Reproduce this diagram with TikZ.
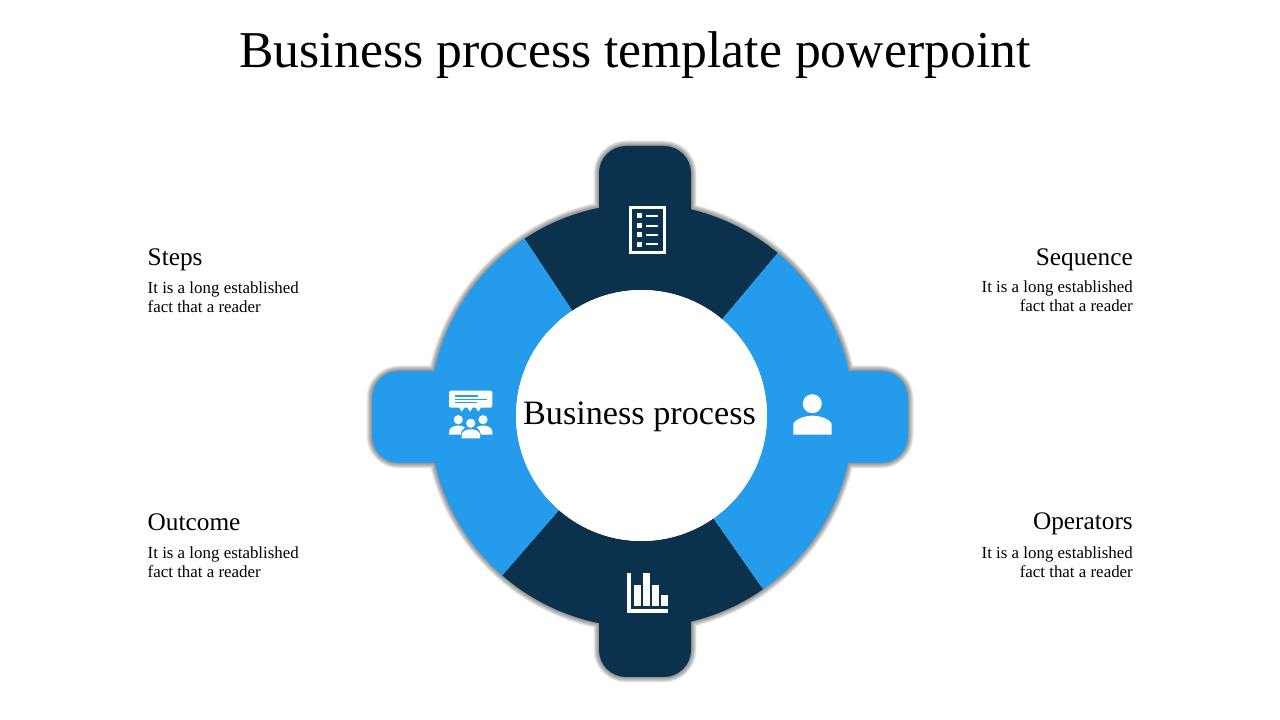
\documentclass[tikz,border=0pt]{standalone}
\usepackage{fontspec}
\setmainfont{Liberation Serif}
\usetikzlibrary{positioning,calc}
\definecolor{ringdark}{HTML}{0A324D}
\definecolor{ringlight}{HTML}{259BEB}
\tikzset{
  headtext/.style={inner sep=0,font=\fontsize{25.3}{25}\selectfont},
  bodytext/.style={inner sep=0,font=\fontsize{16.9}{19}\selectfont},
  icon/.style={fill=white,draw=none},
  iconline/.style={draw=ringlight,line width=1.2pt}
}
% outline of ring with its four tabs (px coordinates, y from the bottom)
\newcommand \myringshape
{
(C) circle [radius=212] [rounded corners=27]
(599,574) rectangle (691,470)
(599,43) rectangle (691,150)
(372,349) rectangle (480,257)
(908,349) rectangle (800,257)
}
\newcommand \myringpart[3]
{
\fill[#3] ($(C)+(#1:212)$) arc[start angle=#1,end angle=#2,radius=212]
  -- ($(C)+(#2:125.5)$) arc[start angle=#2,end angle=#1,radius=125.5] -- cycle;
}
\begin{document}
\begin{tikzpicture}[x=1pt,y=1pt]
\useasboundingbox (0,0) rectangle (1280,720);
\coordinate (C) at (641.5,304.5);
% soft shadow
\foreach \w in {11,9.5,8,6.5,5,3.5,2}
  \draw[black,opacity=0.07,line width=\w pt] \myringshape;
% ring
\myringpart{50}{123.5}{ringdark}
\myringpart{123.5}{229}{ringlight}
\myringpart{229}{305}{ringdark}
\myringpart{305}{410}{ringlight}
\fill[ringdark,rounded corners=27] (599,574) rectangle (691,470);
\fill[ringdark,rounded corners=27] (599,43) rectangle (691,150);
\fill[ringlight,rounded corners=27] (372,349) rectangle (480,257);
\fill[ringlight,rounded corners=27] (908,349) rectangle (800,257);
\node[circle,fill=white,inner sep=0,minimum size=251pt] (hub) at (C) {};
\node[anchor=base,inner sep=0,font=\fontsize{34.2}{34}\selectfont] (hubtext) at (639.5,295.5) {Business process};
% title
\node[anchor=base,inner sep=0,font=\fontsize{51.7}{52}\selectfont] (title) at (635,652.5) {Business process template powerpoint};
% left texts
\node[headtext,anchor=base west] (steps) at (147.5,454) {Steps};
\node[bodytext,anchor=base west] (stepsa) at (147.5,426) {It is a long established};
\node[bodytext,anchor=base west] (stepsb) at (147.5,407.5) {fact that a reader};
\node[headtext,anchor=base west] (outcome) at (147.5,189) {Outcome};
\node[bodytext,anchor=base west] (outcomea) at (147.5,161) {It is a long established};
\node[bodytext,anchor=base west] (outcomeb) at (147.5,142.5) {fact that a reader};
% right texts
\node[headtext,anchor=base east] (sequence) at (1133,454) {Sequence};
\node[bodytext,anchor=base east] (sequencea) at (1133,427) {It is a long established};
\node[bodytext,anchor=base east] (sequenceb) at (1133,408.5) {fact that a reader};
\node[headtext,anchor=base east] (operators) at (1133,190) {Operators};
\node[bodytext,anchor=base east] (operatorsa) at (1133,161) {It is a long established};
\node[bodytext,anchor=base east] (operatorsb) at (1133,142.5) {fact that a reader};
% list icon
\draw[white,line width=3pt] (630.5,512) rectangle (664.5,467.2);
\foreach \y in {504,494.3,485,475.7}
{
  \fill[white] (636.7,\y-2.5) rectangle (641.7,\y+2.5);
  \fill[white] (646,\y-1) rectangle (658.3,\y+1);
}
% person icon
\fill[icon] (812.3,316.3) circle [radius=9.5];
\fill[icon] (793.3,285.3) -- (793.3,296) .. controls (795,301) and (805,304.3) .. (812.5,304.3)
  .. controls (820,304.3) and (830,301) .. (831.7,296) -- (831.7,285.3) -- cycle;
% chart icon
\fill[icon] (627.3,147) rectangle (630.7,107.3);
\fill[icon] (627.3,110.7) rectangle (667.7,107.3);
\fill[icon] (634.3,135) rectangle (641,114.3);
\fill[icon] (643.3,147) rectangle (650,114.3);
\fill[icon] (652.3,135) rectangle (659,114.3);
\fill[icon] (661.3,124.7) rectangle (667.7,114.3);
% people icon
\fill[icon,rounded corners=2] (449,329.3) rectangle (492.3,312.3);
\foreach \x in {461.7,470,478.3}
  \fill[icon] (\x-3,313) -- (\x,308.3) -- (\x+3,313) -- cycle;
\draw[iconline] (455,324) -- (478,324);
\draw[iconline] (455,320.7) -- (486.7,320.7);
\draw[iconline] (455,317.3) -- (476.5,317.3);
\fill[icon] (458.3,300.3) circle [radius=4.6];
\fill[icon] (483,300.3) circle [radius=4.6];
\fill[icon] (470.7,296.7) circle [radius=4.6];
\fill[icon] (449,285.3) -- (449,289) .. controls (450,293) and (455,294.5) .. (458.5,294.5)
  .. controls (461,294.5) and (464,293.5) .. (465,292.5)
  .. controls (462,291) and (461,288) .. (460.5,285.3) -- cycle;
\fill[icon] (492.3,285.3) -- (492.3,289) .. controls (491.3,293) and (486.5,294.5) .. (483,294.5)
  .. controls (480.5,294.5) and (477.5,293.5) .. (476.5,292.5)
  .. controls (479.5,291) and (480.5,288) .. (481,285.3) -- cycle;
\fill[icon] (461.7,281.7) -- (461.7,286) .. controls (463,289.5) and (467,290.7) .. (470.8,290.7)
  .. controls (474.5,290.7) and (478.7,289.5) .. (480,286) -- (480,281.7) -- cycle;
\end{tikzpicture}
\end{document}
